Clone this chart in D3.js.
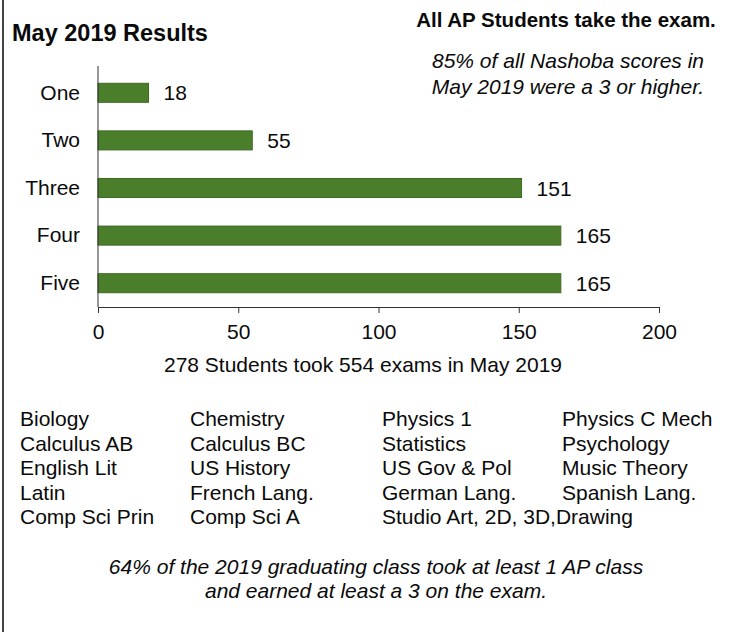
<!DOCTYPE html>
<html>
<head>
<meta charset="utf-8">
<script src="https://cdn.jsdelivr.net/npm/d3@7"></script>
<style>
  body { margin: 0; background: #fff; }
  svg text { font-family: "Liberation Sans", Arial, sans-serif; fill: #0a0a0a; }
</style>
</head>
<body>
<div id="chart"></div>
<script>
// scores and how many exams got each one
var scores = ["One", "Two", "Three", "Four", "Five"];
var counts = [18, 55, 151, 165, 165];
var xTicks = [0, 50, 100, 150, 200];

// AP courses offered, one list per column
var subjectsCol1 = ["Biology", "Calculus AB", "English Lit", "Latin", "Comp Sci Prin"];
var subjectsCol2 = ["Chemistry", "Calculus BC", "US History", "French Lang.", "Comp Sci A"];
var subjectsCol3 = ["Physics 1", "Statistics", "US Gov & Pol", "German Lang.", "Studio Art, 2D, 3D,Drawing"];
var subjectsCol4 = ["Physics C Mech", "Psychology", "Music Theory", "Spanish Lang.", ""];

var width = 746, height = 632;
var fs = "21px";

var svg = d3.select("#chart")
  .append("svg")
  .attr("width", width)
  .attr("height", height);

// left edge line of the scanned page
svg.append("line")
  .attr("x1", 3).attr("x2", 3)
  .attr("y1", 0).attr("y2", height)
  .attr("stroke", "#444")
  .attr("stroke-width", 2);

// ---- titles ----
svg.append("text")
  .attr("x", 12).attr("y", 41)
  .style("font-size", "23.5px")
  .style("font-weight", "bold")
  .text("May 2019 Results");

svg.append("text")
  .attr("x", 566).attr("y", 27)
  .attr("text-anchor", "middle")
  .style("font-size", "20.5px")
  .style("font-weight", "bold")
  .text("All AP Students take the exam.");

svg.append("text")
  .attr("x", 568).attr("y", 68)
  .attr("text-anchor", "middle")
  .style("font-size", fs)
  .style("font-style", "italic")
  .text("85% of all Nashoba scores in");

svg.append("text")
  .attr("x", 568).attr("y", 94)
  .attr("text-anchor", "middle")
  .style("font-size", fs)
  .style("font-style", "italic")
  .text("May 2019 were a 3 or higher.");

// ---- scales ----
var x = d3.scaleLinear()
  .domain([0, 200])
  .range([98, 659]);

var y = d3.scaleBand()
  .domain(scores)
  .range([69, 307])
  .paddingInner(0.6)
  .paddingOuter(0.3);

var data = scores.map(function(s, i) { return { score: s, count: counts[i] }; });

// bars
svg.append("g")
  .selectAll("rect")
  .data(data)
  .enter()
  .append("rect")
  .attr("x", x(0))
  .attr("y", function(d) { return y(d.score); })
  .attr("width", function(d) { return x(d.count) - x(0); })
  .attr("height", y.bandwidth())
  .attr("fill", "#4a7e2b")
  .attr("stroke", "#3d6a22")
  .attr("stroke-width", 1);

// value labels
svg.append("g")
  .selectAll("text")
  .data(data)
  .enter()
  .append("text")
  .attr("x", function(d) { return x(d.count) + 15; })
  .attr("y", function(d) { return y(d.score) + y.bandwidth() / 2; })
  .attr("dy", "0.36em")
  .style("font-size", fs)
  .text(function(d) { return d.count; });

// y axis (no ticks)
var yAxis = svg.append("g")
  .attr("transform", "translate(" + x(0) + ",0)")
  .call(d3.axisLeft(y).tickSize(0).tickPadding(18));
yAxis.select(".domain").attr("stroke", "#333").attr("d", "M0,66V307");
yAxis.selectAll("text")
  .style("font-size", fs)
  .attr("font-family", null)
  .attr("fill", "#0a0a0a");

// x axis
var xAxis = svg.append("g")
  .attr("transform", "translate(0,307)")
  .call(d3.axisBottom(x).tickValues(xTicks).tickSize(6).tickSizeOuter(0).tickPadding(11));
xAxis.select(".domain").attr("stroke", "#333");
xAxis.selectAll(".tick line").attr("stroke", "#333");
xAxis.selectAll("text")
  .style("font-size", fs)
  .attr("font-family", null)
  .attr("fill", "#0a0a0a");

svg.append("text")
  .attr("x", 363).attr("y", 372)
  .attr("text-anchor", "middle")
  .style("font-size", fs)
  .text("278 Students took 554 exams in May 2019");

// ---- subject list ----
var columns = [subjectsCol1, subjectsCol2, subjectsCol3, subjectsCol4];
var colX = [20, 190, 382, 562];

columns.forEach(function(col, ci) {
  svg.append("g")
    .selectAll("text")
    .data(col)
    .enter()
    .append("text")
    .attr("x", colX[ci])
    .attr("y", function(d, i) { return 426 + i * 24.5; })
    .style("font-size", fs)
    .text(function(d) { return d; });
});

// ---- footer ----
svg.append("text")
  .attr("x", 376).attr("y", 574)
  .attr("text-anchor", "middle")
  .style("font-size", fs)
  .style("font-style", "italic")
  .text("64% of the 2019 graduating class took at least 1 AP class");

svg.append("text")
  .attr("x", 376).attr("y", 598)
  .attr("text-anchor", "middle")
  .style("font-size", fs)
  .style("font-style", "italic")
  .text("and earned at least a 3 on the exam.");
</script>
</body>
</html>
